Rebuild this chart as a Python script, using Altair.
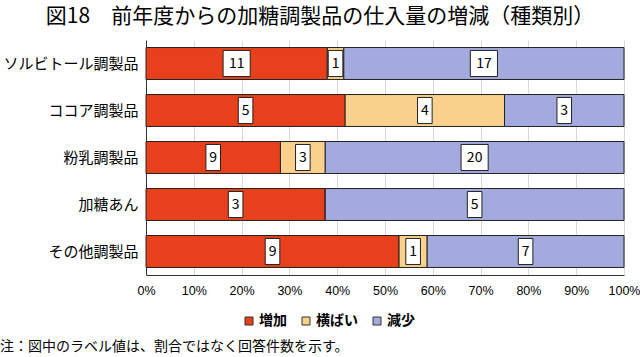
import altair as alt
import pandas as pd

categories = ["ソルビトール調製品", "ココア調製品", "粉乳調製品", "加糖あん", "その他調製品"]
types = ["増加", "横ばい", "減少"]
increase = [11, 5, 9, 3, 9]
flat = [1, 4, 3, 0, 1]
decrease = [17, 3, 20, 5, 7]
colors = ["#E8401C", "#F9D08C", "#A4AADD"]
x_ticks = [0, 0.1, 0.2, 0.3, 0.4, 0.5, 0.6, 0.7, 0.8, 0.9, 1.0]
title_text = "図18　前年度からの加糖調製品の仕入量の増減（種類別）"
note_text = "注：図中のラベル値は、割合ではなく回答件数を示す。"

rows = []
for i, c in enumerate(categories):
    for j, (t, vals) in enumerate(zip(types, [increase, flat, decrease])):
        rows.append({"category": c, "type": t, "order": j, "count": vals[i]})
df = pd.DataFrame(rows)

FONT = "Noto Sans CJK JP"

base = alt.Chart(df).transform_stack(
    stack="count",
    groupby=["category"],
    sort=[alt.SortField("order")],
    as_=["x0", "x1"],
    offset="normalize",
)

y_enc = alt.Y(
    "category:N",
    sort=categories,
    scale=alt.Scale(paddingInner=0.32, paddingOuter=0.16),
    axis=alt.Axis(title=None, labelFontSize=15, labelColor="#000", ticks=False,
                  domainColor="#333", labelPadding=8, grid=False, labelFont=FONT),
)

bars = base.mark_bar(stroke="#222", strokeWidth=1).encode(
    y=y_enc,
    x=alt.X("x0:Q", scale=alt.Scale(domain=[0, 1]),
            axis=alt.Axis(title=None, format="%", values=x_ticks, labelFontSize=12.5,
                          labelColor="#000", grid=True, gridColor="#d9d9d9",
                          domainColor="#333", ticks=False, labelPadding=9,
                          labelFlush=False, labelFont="Liberation Sans")),
    x2="x1:Q",
    color=alt.Color("type:N", scale=alt.Scale(domain=types, range=colors),
                    legend=alt.Legend(orient="none", legendX=96, legendY=274,
                                      direction="horizontal", title=None,
                                      symbolType="square", symbolSize=64,
                                      symbolStrokeColor="#333", symbolStrokeWidth=1,
                                      labelFontSize=14, labelFontWeight="bold",
                                      labelFont=FONT, labelColor="#000",
                                      columnPadding=12, labelOffset=3, padding=0)),
    order=alt.Order("order:Q"),
)

labels = base.transform_filter("datum.count > 0").transform_calculate(
    mid="(datum.x0 + datum.x1) / 2",
    digits="datum.count >= 10 ? 'two' : 'one'",
)

path1 = "M-0.56,-1L0.56,-1L0.56,1L-0.56,1Z"
path2 = "M-1.04,-1L1.04,-1L1.04,1L-1.04,1Z"

boxes = labels.mark_point(filled=True, fill="white", stroke="#222", strokeWidth=1,
                          opacity=1, size=680).encode(
    y=alt.Y("category:N", sort=categories),
    x=alt.X("mid:Q"),
    shape=alt.Shape("digits:N", scale=alt.Scale(domain=["one", "two"], range=[path1, path2]),
                    legend=None),
)

texts = labels.mark_text(fontSize=14, color="#000", baseline="middle", font=FONT).encode(
    y=alt.Y("category:N", sort=categories),
    x=alt.X("mid:Q"),
    text=alt.Text("count:Q"),
)

note = alt.Chart(pd.DataFrame({"t": [note_text]})).mark_text(
    align="left", baseline="middle", fontSize=14, font=FONT, color="#000"
).encode(x=alt.value(-146), y=alt.value(307), text="t:N")

chart = alt.layer(bars, boxes, texts, note).properties(
    width=478,
    height=235,
    padding={"left": 146, "top": 40, "right": 16, "bottom": 82},
    autosize="none",
    title=alt.Title(title_text, fontSize=21, font=FONT, fontWeight="normal",
                    anchor="middle", dx=-65, offset=13, color="#000"),
).configure_view(stroke=None)

chart.save("out.html", embed_options={"renderer": "svg", "actions": False})
